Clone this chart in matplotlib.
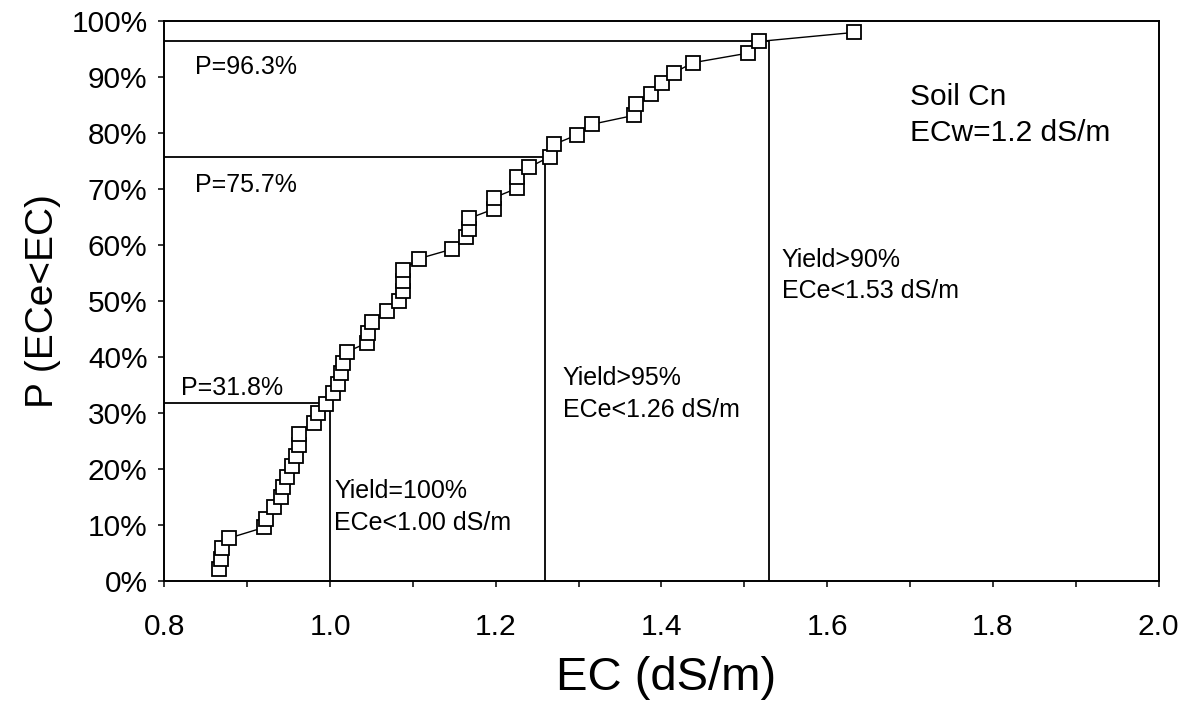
import matplotlib
matplotlib.use("Agg")
import matplotlib.pyplot as plt
from matplotlib.ticker import MultipleLocator, PercentFormatter, FixedLocator

plt.rcParams['font.family'] = ['Liberation Sans', 'DejaVu Sans']

# Empirical cumulative distribution of ECe (dS/m) and probability (%)
ec_values = [0.866, 0.868, 0.870, 0.878, 0.920, 0.923, 0.932, 0.941, 0.943, 0.948,
             0.954, 0.959, 0.962, 0.963, 0.981, 0.986, 0.995, 1.004, 1.010, 1.013,
             1.016, 1.021, 1.045, 1.046, 1.051, 1.069, 1.083, 1.088, 1.088, 1.088,
             1.107, 1.147, 1.164, 1.168, 1.168, 1.198, 1.198, 1.226, 1.226, 1.240,
             1.265, 1.270, 1.298, 1.316, 1.367, 1.369, 1.387, 1.401, 1.415, 1.438,
             1.504, 1.518, 1.632]
p_values = [2.0, 3.8, 5.8, 7.6, 9.5, 11.1, 13.1, 14.9, 16.7, 18.5,
            20.4, 22.3, 24.2, 26.2, 28.1, 29.9, 31.6, 33.5, 35.1, 37.0,
            38.8, 40.9, 42.5, 44.3, 46.2, 48.2, 49.9, 51.7, 53.5, 55.5,
            57.5, 59.2, 61.3, 62.8, 64.7, 66.4, 68.4, 70.1, 72.1, 73.8,
            75.7, 77.9, 79.6, 81.5, 83.1, 85.2, 87.0, 88.9, 90.7, 92.5,
            94.2, 96.3, 97.9]

# Threshold lines
thresh_ec = [1.00, 1.26, 1.53]
thresh_p = [31.8, 75.7, 96.3]
p_labels = ["P=31.8%", "P=75.7%", "P=96.3%"]
yield_labels = ["Yield=100%\nECe<1.00 dS/m", "Yield>95%\nECe<1.26 dS/m", "Yield>90%\nECe<1.53 dS/m"]
info_label = "Soil Cn\nECw=1.2 dS/m"

x_ticks = [0.8, 1.0, 1.2, 1.4, 1.6, 1.8, 2.0]
x_ticklabels = ["0.8", "1.0", "1.2", "1.4", "1.6", "1.8", "2.0"]

fig = plt.figure(figsize=(11.85, 7.02), dpi=100)
ax = fig.add_axes([0.1387, 0.1728, 0.8390, 0.7977])

# threshold lines
for t, p in zip(thresh_ec, thresh_p):
    ax.plot([0.8, t, t], [p, p, 0], color='black', lw=1.3, zorder=2)

# data
ax.plot(ec_values, p_values, color='black', lw=1.0, marker='s', markersize=9.8,
        markerfacecolor='white', markeredgecolor='black', markeredgewidth=1.3, zorder=3,
        clip_on=False)

ax.set_xlim(0.8, 2.0)
ax.set_ylim(0, 100)
ax.xaxis.set_major_locator(FixedLocator(x_ticks))
ax.set_xticklabels(x_ticklabels)
ax.xaxis.set_minor_locator(MultipleLocator(0.1))
ax.yaxis.set_major_locator(MultipleLocator(10))
ax.yaxis.set_major_formatter(PercentFormatter(decimals=0))

ax.tick_params(axis='x', which='both', direction='out', length=4.5, width=1.1, labelsize=21.5, pad=19)
ax.tick_params(axis='y', which='both', direction='out', length=4, width=1.1, labelsize=21.5, pad=8)
for s in ax.spines.values():
    s.set_linewidth(1.4)

# annotations
ax.text(0.837, 90.5, p_labels[2], fontsize=18, ha='left', va='baseline')
ax.text(0.837, 69.4, p_labels[1], fontsize=18, ha='left', va='baseline')
ax.text(0.820, 33.2, p_labels[0], fontsize=18, ha='left', va='baseline')

yield_pos = [(1.005, 14.7), (1.281, 34.9), (1.545, 56.0)]
for (x, y), lab in zip(yield_pos, yield_labels):
    l1, l2 = lab.split("\n")
    ax.text(x, y, l1, fontsize=18, ha='left', va='baseline')
    ax.text(x, y - 5.6, l2, fontsize=18, ha='left', va='baseline')

i1, i2 = info_label.split("\n")
ax.text(1.700, 85.0, i1, fontsize=21.5, ha='left', va='baseline')
ax.text(1.700, 78.5, i2, fontsize=21.5, ha='left', va='baseline')

# axis labels
fig.text(666 / 1185, 1 - 690 / 702, "EC (dS/m)", fontsize=34, ha='center', va='baseline')
fig.text(53 / 1185, 1 - 301.5 / 702, "P (ECe<EC)", fontsize=28, rotation=90,
         rotation_mode='anchor', ha='center', va='baseline')

fig.savefig("out.png", dpi=100)
